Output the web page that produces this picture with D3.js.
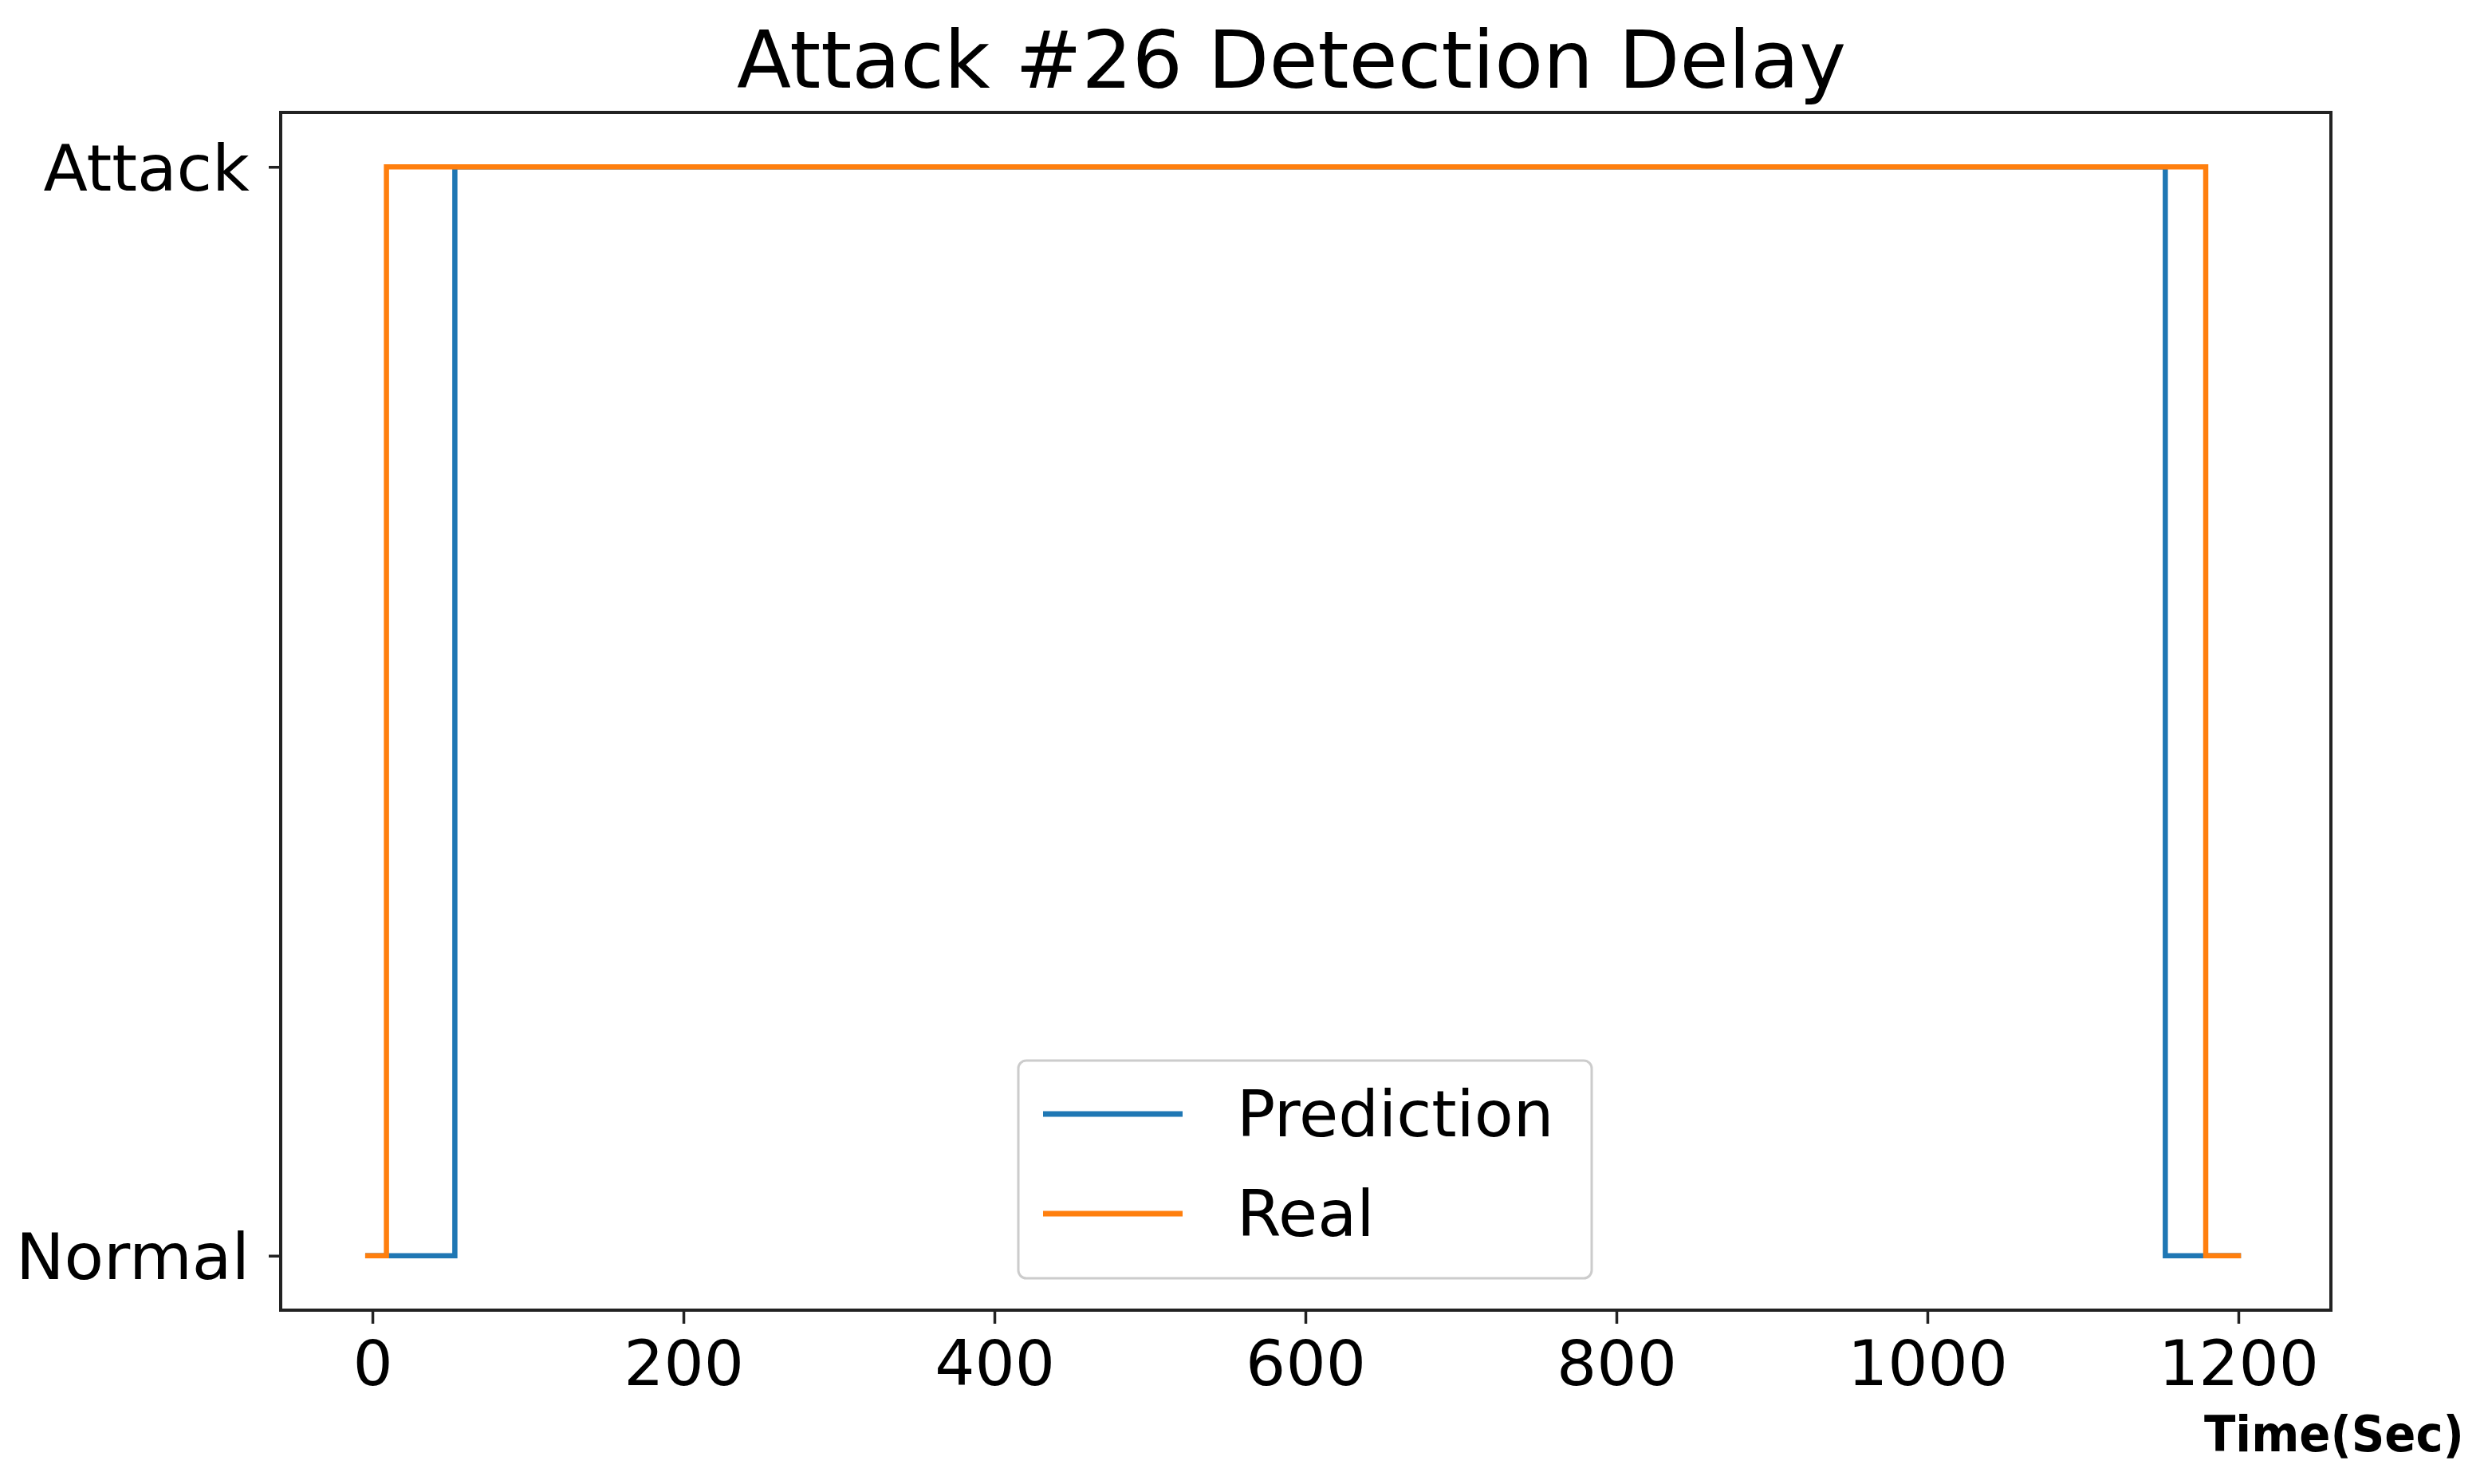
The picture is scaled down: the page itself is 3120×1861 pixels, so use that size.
<!DOCTYPE html>
<html>
<head>
<meta charset="utf-8">
<script src="https://cdn.jsdelivr.net/npm/d3@7"></script>
<style>
  html, body { margin: 0; padding: 0; background: #fff; }
  svg { display: block; }
  text { font-family: "DejaVu Sans", sans-serif; fill: #000; }
</style>
</head>
<body>
<svg id="chart" width="3120" height="1861"></svg>
<script>
// ---- data ----
const title = "Attack #26 Detection Delay";
const xLabel = "Time(Sec)";
const stateLabels = ["Normal", "Attack"];          // y categories (0, 1)
const xTicks = [0, 200, 400, 600, 800, 1000, 1200];
const xDomain = [-59, 1259.5];
const yDomain = [-0.05, 1.05];

const seriesNames = ["Prediction", "Real"];
const seriesColors = ["#1f77b4", "#ff7f0e"];

const predictionTime  = [-3, 53, 1153, 1200];
const predictionState = [0, 1, 0, 0];
const realTime  = [-3, 9, 1179, 1200];
const realState = [0, 1, 0, 0];

// ---- layout ----
const W = 3120, H = 1861;
const plot = { left: 352, right: 2923, top: 141, bottom: 1643 };

const svg = d3.select("#chart");
svg.append("rect").attr("width", W).attr("height", H).attr("fill", "#fff");

const x = d3.scaleLinear().domain(xDomain).range([plot.left, plot.right]);
const y = d3.scaleLinear().domain(yDomain).range([plot.bottom, plot.top]);

const series = [
  { name: seriesNames[0], color: seriesColors[0], pts: predictionTime.map((t, i) => [t, predictionState[i]]) },
  { name: seriesNames[1], color: seriesColors[1], pts: realTime.map((t, i) => [t, realState[i]]) }
];

const line = d3.line()
  .x(d => x(d[0]))
  .y(d => y(d[1]))
  .curve(d3.curveStepAfter);

const g = svg.append("g");
g.selectAll("path.series")
  .data(series)
  .enter().append("path")
  .attr("class", "series")
  .attr("d", d => line(d.pts))
  .attr("fill", "none")
  .attr("stroke", d => d.color)
  .attr("stroke-width", 6.5)
  .attr("stroke-linecap", "square")
  .attr("stroke-linejoin", "miter");

// ---- axes ----
const xAxis = d3.axisBottom(x).tickValues(xTicks).tickSize(17).tickPadding(14).tickFormat(d3.format("d"));
const gx = svg.append("g").attr("transform", `translate(0,${plot.bottom})`).call(xAxis);
gx.select(".domain").remove();
gx.selectAll(".tick line").attr("stroke", "#222").attr("stroke-width", 3.5);
gx.selectAll(".tick text").attr("font-size", 79).attr("font-family", "DejaVu Sans").attr("fill", "#000")
  .attr("dy", null).attr("y", 94);

const yAxis = d3.axisLeft(y).tickValues([0, 1]).tickSize(15).tickPadding(24).tickFormat(d => stateLabels[d]);
const gy = svg.append("g").attr("transform", `translate(${plot.left},0)`).call(yAxis);
gy.select(".domain").remove();
gy.selectAll(".tick line").attr("stroke", "#222").attr("stroke-width", 3.5);
gy.selectAll(".tick text").attr("font-size", 81).attr("font-family", "DejaVu Sans").attr("fill", "#000")
  .attr("dy", "0.36em");

// frame
svg.append("rect")
  .attr("x", plot.left).attr("y", plot.top)
  .attr("width", plot.right - plot.left).attr("height", plot.bottom - plot.top)
  .attr("fill", "none").attr("stroke", "#222").attr("stroke-width", 4);

// title
svg.append("text")
  .attr("x", (plot.left + plot.right) / 2 - 18).attr("y", 110)
  .attr("text-anchor", "middle")
  .attr("font-size", 99.5)
  .text(title);

// x label
svg.append("text")
  .attr("x", 2764).attr("y", 1820)
  .attr("font-size", 63)
  .attr("font-weight", "bold")
  .attr("font-family", "'Noto Sans', sans-serif")
  .attr("textLength", 326)
  .attr("lengthAdjust", "spacingAndGlyphs")
  .text(xLabel);

// ---- legend ----
const lg = svg.append("g");
lg.append("rect")
  .attr("x", 1277).attr("y", 1330).attr("width", 719).attr("height", 273)
  .attr("rx", 10).attr("ry", 10)
  .attr("fill", "#fff").attr("fill-opacity", 0.8)
  .attr("stroke", "#ccc").attr("stroke-width", 3);

const legendRowY = [1397, 1522];
const items = lg.selectAll("g.item").data(series).enter().append("g").attr("class", "item")
  .attr("transform", (d, i) => `translate(0,${legendRowY[i]})`);
items.append("line")
  .attr("x1", 1308).attr("x2", 1483).attr("y1", 0).attr("y2", 0)
  .attr("stroke", d => d.color).attr("stroke-width", 7);
items.append("text")
  .attr("x", 1551).attr("y", 0).attr("dy", "0.35em")
  .attr("font-size", 80)
  .text(d => d.name);
</script>
</body>
</html>
